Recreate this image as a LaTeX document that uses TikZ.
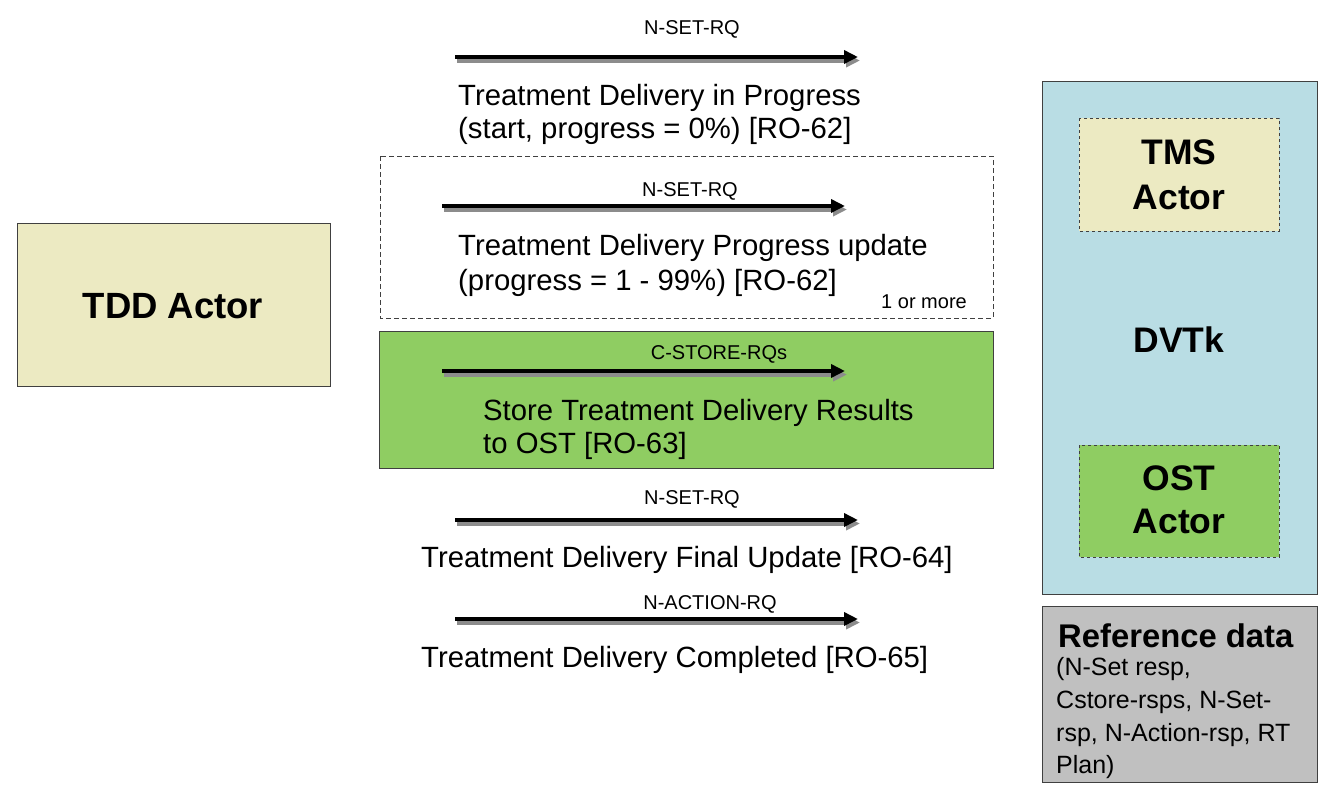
\documentclass[tikz,border=0pt]{standalone}
\usepackage{fontspec}
\setmainfont{Liberation Sans}
\usetikzlibrary{arrows.meta,calc}
\definecolor{beige}{HTML}{ECEAC2}
\definecolor{grn}{HTML}{8FCD62}
\definecolor{lblue}{HTML}{B9DDE4}
\definecolor{refgray}{HTML}{C0C0C0}
\definecolor{edge}{HTML}{404040}
\tikzset{
  sig/.style={line width=4pt, -{Triangle[length=14pt,width=13pt]}},
  sigshadow/.style={line width=4pt, draw=black!45, -{Triangle[length=14pt,width=13pt]}},
  small/.style={font=\fontsize{20}{22}\selectfont, anchor=base, inner sep=0pt},
  big/.style={font=\fontsize{29.3}{32}\selectfont, anchor=base west, inner sep=0pt},
  bold/.style={font=\fontsize{35.5}{38}\selectfont\bfseries, anchor=base, inner sep=0pt},
  refl/.style={font=\fontsize{25}{28}\selectfont, anchor=base west, inner sep=0pt},
  box/.style={draw=edge, line width=1pt}
}
\begin{document}
\begin{tikzpicture}[x=1pt,y=-1pt]
\useasboundingbox (0,0) rectangle (1325,793);

% TDD actor
\draw[box, fill=beige] (17,223) rectangle (330,386);
\node[bold, font=\fontsize{36.5}{38}\selectfont\bfseries] (tdd) at (173,318) {TDD Actor};

% message 1
\coordinate (a1s) at (455,57); \coordinate (a1e) at (858,57);
\draw[sigshadow] ($(a1s)+(2,3.5)$) -- ($(a1e)+(2,3.5)$);
\draw[sig] (a1s) -- (a1e);
\node[small] (l1) at (692,34) {N-SET-RQ};
\node[big] (t1a) at (458,105) {Treatment Delivery in Progress};
\node[big] (t1b) at (458,138) {(start, progress = 0\%) [RO-62]};

% dashed repeat box
\draw[dashed, draw=edge, line width=0.8pt, dash pattern=on 5pt off 3pt] (380,156) rectangle (993,318);
\coordinate (a2s) at (442,206); \coordinate (a2e) at (845,206);
\draw[sigshadow] ($(a2s)+(2,3.5)$) -- ($(a2e)+(2,3.5)$);
\draw[sig] (a2s) -- (a2e);
\node[small] (l2) at (690,196) {N-SET-RQ};
\node[big] (t2a) at (458,255) {Treatment Delivery Progress update};
\node[big] (t2b) at (458,290) {(progress = 1 - 99\%) [RO-62]};
\node[small, anchor=base east] (more) at (967,308) {1 or more};

% green store box
\draw[box, fill=grn] (379,331) rectangle (993,468);
\coordinate (a3s) at (442,371); \coordinate (a3e) at (845,371);
\draw[sigshadow] ($(a3s)+(2,3.5)$) -- ($(a3e)+(2,3.5)$);
\draw[sig] (a3s) -- (a3e);
\node[small] (l3) at (719,359) {C-STORE-RQs};
\node[big] (t3a) at (483,420) {Store Treatment Delivery Results};
\node[big] (t3b) at (483,453) {to OST [RO-63]};

% message 4
\coordinate (a4s) at (455,520); \coordinate (a4e) at (858,520);
\draw[sigshadow] ($(a4s)+(2,3.5)$) -- ($(a4e)+(2,3.5)$);
\draw[sig] (a4s) -- (a4e);
\node[small] (l4) at (692,504) {N-SET-RQ};
\node[big] (t4) at (421,567) {Treatment Delivery Final Update [RO-64]};

% message 5
\coordinate (a5s) at (455,619); \coordinate (a5e) at (858,619);
\draw[sigshadow] ($(a5s)+(2,3.5)$) -- ($(a5e)+(2,3.5)$);
\draw[sig] (a5s) -- (a5e);
\node[small] (l5) at (710,609) {N-ACTION-RQ};
\node[big] (t5) at (421,667) {Treatment Delivery Completed [RO-65]};

% DVTk box
\draw[box, fill=lblue] (1042,81) rectangle (1317,594);
\draw[dashed, draw=edge, line width=1pt, fill=beige] (1079,118) rectangle (1279,231);
\node[bold] (tms1) at (1179,164) {TMS};
\node[bold] (tms2) at (1179,209) {Actor};
\node[bold] (dvtk) at (1179,352) {DVTk};
\draw[dashed, draw=edge, line width=1pt, fill=grn] (1079,445) rectangle (1279,557);
\node[bold] (ost1) at (1179,490) {OST};
\node[bold] (ost2) at (1179,533) {Actor};

% reference data
\draw[box, fill=refgray] (1042,606) rectangle (1317,782);
\node[font=\fontsize{32.8}{34}\selectfont\bfseries, anchor=base west, inner sep=0pt] (ref) at (1058,647) {Reference data};
\node[refl] (r1) at (1056,675) {(N-Set resp,};
\node[refl] (r2) at (1056,708) {Cstore-rsps, N-Set-};
\node[refl] (r3) at (1056,741) {rsp, N-Action-rsp, RT};
\node[refl] (r4) at (1056,773) {Plan)};
\end{tikzpicture}
\end{document}
